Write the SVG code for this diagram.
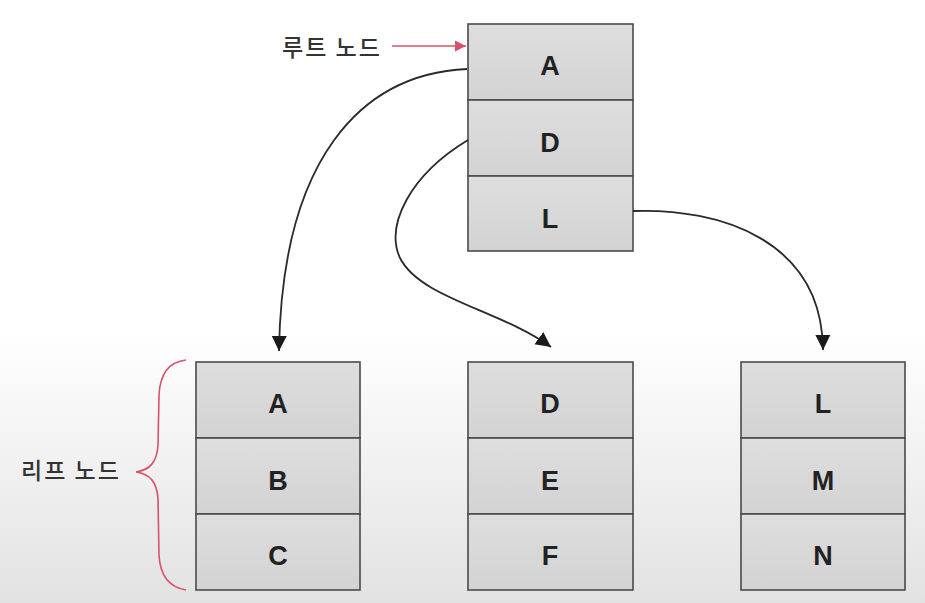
<svg xmlns="http://www.w3.org/2000/svg" width="925" height="603" viewBox="0 0 925 603">
  <defs>
    <linearGradient id="bg" x1="0" y1="0" x2="0" y2="1">
      <stop offset="0" stop-color="#ffffff"/>
      <stop offset="0.55" stop-color="#ffffff"/>
      <stop offset="1" stop-color="#e2e2e2"/>
    </linearGradient>
    <linearGradient id="cellfill" x1="0" y1="0" x2="0" y2="1">
      <stop offset="0" stop-color="#dedede"/>
      <stop offset="1" stop-color="#d3d3d3"/>
    </linearGradient>
    <marker id="arrowBlack" markerUnits="userSpaceOnUse" markerWidth="16" markerHeight="18" refX="15" refY="7.5" orient="auto" viewBox="0 0 16 15">
      <path d="M0,0 L15,7.5 L0,15 Z" fill="#1a1a1a"/>
    </marker>
    <marker id="arrowRed" markerUnits="userSpaceOnUse" markerWidth="12" markerHeight="12" refX="11" refY="5.5" orient="auto" viewBox="0 0 12 11">
      <path d="M0,0 L11,5.5 L0,11 Z" fill="#d9506a"/>
    </marker>
  </defs>
  <style>
    .cell { fill: url(#cellfill); stroke: #4a4a4a; stroke-width: 1.6; }
    .key { font-family: "Liberation Sans", "DejaVu Sans", sans-serif; font-weight: bold; font-size: 27px; fill: #222; text-anchor: middle; }
    .label { font-family: "Noto Sans CJK KR", "Noto Sans", sans-serif; font-size: 23px; font-weight: 500; fill: #333; letter-spacing: 2px; }
    .conn { fill: none; stroke: #2a2a2a; stroke-width: 1.8; marker-end: url(#arrowBlack); }
    .red { fill: none; stroke: #d9506a; stroke-width: 1.6; }
  </style>
  <rect x="0" y="0" width="925" height="603" fill="url(#bg)"/>

  <g id="root-node">
    <rect class="cell" x="468" y="24" width="165" height="76"/>
    <rect class="cell" x="468" y="100" width="165" height="76"/>
    <rect class="cell" x="468" y="176" width="165" height="75"/>
    <text class="key" x="550" y="75">A</text>
    <text class="key" x="550" y="152">D</text>
    <text class="key" x="550" y="228">L</text>
  </g>

  <g id="leaf-abc">
    <rect class="cell" x="196" y="362" width="164" height="76"/>
    <rect class="cell" x="196" y="438" width="164" height="76"/>
    <rect class="cell" x="196" y="514" width="164" height="76"/>
    <text class="key" x="278" y="413">A</text>
    <text class="key" x="278" y="490">B</text>
    <text class="key" x="278" y="565">C</text>
  </g>

  <g id="leaf-def">
    <rect class="cell" x="468" y="362" width="165" height="76"/>
    <rect class="cell" x="468" y="438" width="165" height="76"/>
    <rect class="cell" x="468" y="514" width="165" height="76"/>
    <text class="key" x="550" y="413">D</text>
    <text class="key" x="550" y="490">E</text>
    <text class="key" x="550" y="565">F</text>
  </g>

  <g id="leaf-lmn">
    <rect class="cell" x="741" y="362" width="164" height="76"/>
    <rect class="cell" x="741" y="438" width="164" height="76"/>
    <rect class="cell" x="741" y="514" width="164" height="76"/>
    <text class="key" x="823" y="413">L</text>
    <text class="key" x="823" y="490">M</text>
    <text class="key" x="823" y="565">N</text>
  </g>

  <g id="root-label">
    <text class="label" x="282" y="56">루트 노드</text>
    <path class="red" d="M392,46 L466,46" marker-end="url(#arrowRed)"/>
  </g>

  <g id="leaf-label">
    <text class="label" x="21" y="479">리프 노드</text>
    <path class="red" d="M186,360 C168,362 160,375 159,395 L158,445 C157,462 150,470 136,472 C150,474 157,482 158,499 L159,555 C160,575 168,587 186,590"/>
  </g>

  <g id="connectors">
    <path class="conn" d="M467,69 C360,74 282,160 279,351"/>
    <path class="conn" d="M468,140 C410,175 385,225 400,258 C420,298 500,310 551,347"/>
    <path class="conn" d="M633,211 C720,208 822,240 823,350"/>
  </g>
</svg>
